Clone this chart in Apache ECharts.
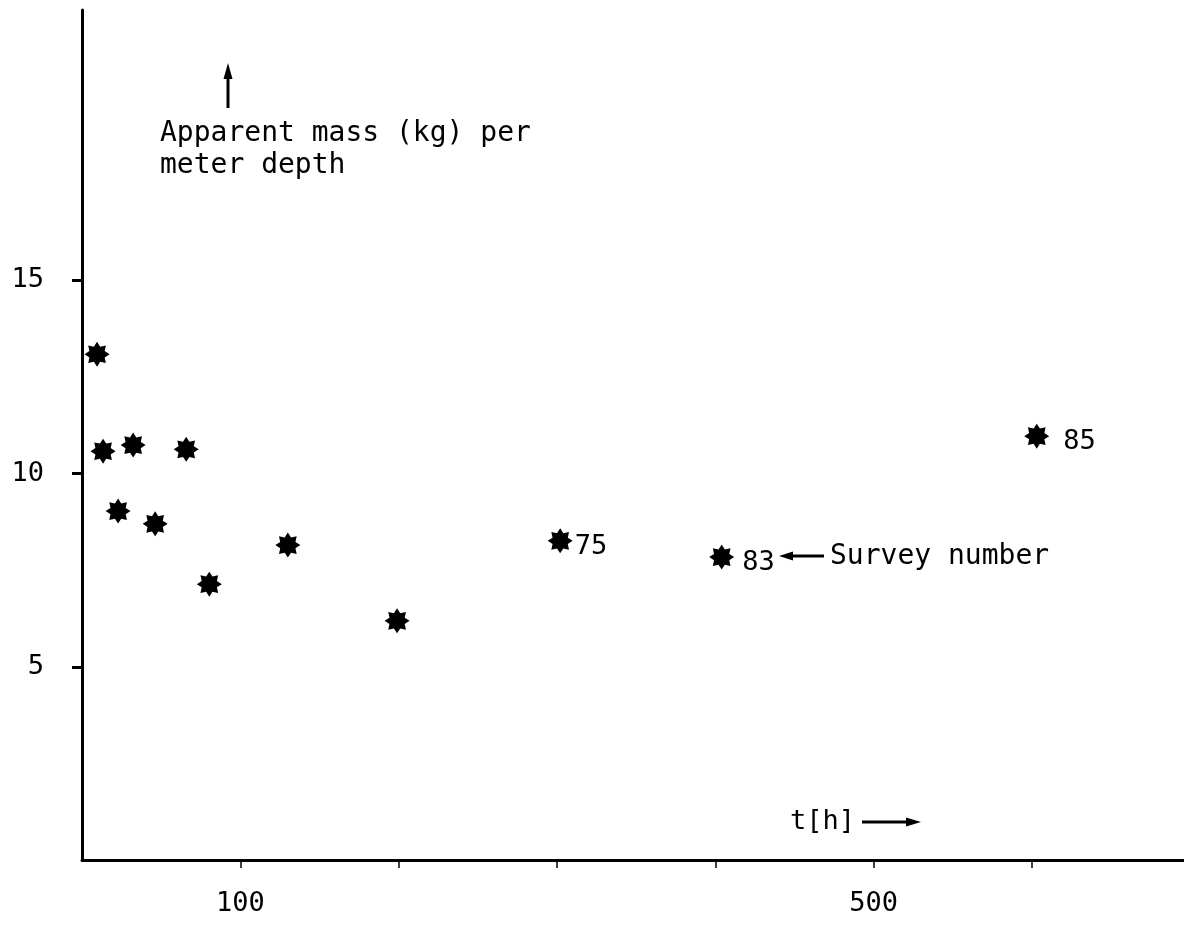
<!DOCTYPE html>
<html>
<head>
<meta charset="utf-8">
<script src="https://cdn.jsdelivr.net/npm/echarts@6/dist/echarts.min.js"></script>
<style>
html,body{margin:0;padding:0;background:#fff;}
#chart{width:1184px;height:925px;}
</style>
</head>
<body>
<div id="chart"></div>
<script>
// ---- data ----
const timeHours = [9.5, 13.3, 22.8, 32.3, 46.2, 65.8, 80.4, 130, 199, 302, 404, 603];
const apparentMass = [13.09, 10.58, 9.03, 10.74, 8.70, 10.63, 7.14, 8.15, 6.19, 8.26, 7.84, 10.97];
const surveyLabels = ['', '', '', '', '', '', '', '', '', '75', '83', '85'];
const xTickValues = [100, 200, 300, 400, 500, 600];
const xTickLabels = [100, 500];
const yTickLabels = [5, 10, 15];

const FONT = '"DejaVu Sans Mono", "Liberation Mono", monospace';
// label gap after each annotated star (style only)
const labelGap = { '75': 2, '83': 8, '85': 14 };

// 8-pointed star symbol
function starPath(points, rOuter, rInner) {
  let d = '';
  const n = points * 2;
  for (let i = 0; i < n; i++) {
    const r = i % 2 === 0 ? rOuter : rInner;
    const a = -Math.PI / 2 + i * Math.PI / points;
    const x = 50 + r * Math.cos(a);
    const y = 50 + r * Math.sin(a);
    d += (i === 0 ? 'M' : 'L') + x.toFixed(2) + ' ' + y.toFixed(2) + ' ';
  }
  return 'path://' + d + 'Z';
}
const STAR = starPath(8, 50, 33);

const seriesData = timeHours.map((t, i) => ({
  value: [t, apparentMass[i]],
  label: {
    show: surveyLabels[i] !== '',
    formatter: surveyLabels[i],
    distance: labelGap[surveyLabels[i]] || 4
  }
}));

const chart = echarts.init(document.getElementById('chart'));
chart.setOption({
  animation: false,
  backgroundColor: '#fff',
  grid: { left: 82, top: 10, right: 0, bottom: 65, containLabel: false },
  xAxis: {
    type: 'value',
    min: 0,
    max: 696,
    interval: 100,
    splitLine: { show: false },
    axisLine: { show: true, onZero: false, lineStyle: { color: '#000', width: 3 } },
    axisTick: { show: true, customValues: xTickValues, inside: false, length: 8, lineStyle: { color: '#000', width: 1.5 } },
    axisLabel: {
      show: true,
      customValues: xTickLabels,
      margin: 30,
      color: '#000',
      fontFamily: FONT,
      fontSize: 27,
      formatter: v => String(v)
    }
  },
  yAxis: {
    type: 'value',
    min: 0,
    max: 22,
    splitLine: { show: false },
    axisLine: { show: true, onZero: false, lineStyle: { color: '#000', width: 3 } },
    axisTick: { show: true, customValues: yTickLabels, length: 10, lineStyle: { color: '#000', width: 3 } },
    axisLabel: {
      show: true,
      customValues: yTickLabels,
      margin: 38,
      color: '#000',
      fontFamily: FONT,
      fontSize: 27,
      formatter: v => String(v)
    }
  },
  series: [{
    type: 'scatter',
    data: seriesData,
    symbol: STAR,
    symbolSize: 25,
    itemStyle: { color: '#000', opacity: 1 },
    emphasis: { disabled: true },
    label: {
      position: 'right',
      color: '#000',
      opacity: 1,
      fontFamily: FONT,
      fontSize: 27,
      offset: [0, 6]
    }
  }],
  graphic: [
    // up arrow + y description
    { type: 'line', shape: { x1: 228, y1: 108, x2: 228, y2: 72 }, style: { stroke: '#000', lineWidth: 3 } },
    { type: 'polygon', shape: { points: [[228, 63], [223.5, 79], [232.5, 79]] }, style: { fill: '#000' } },
    { type: 'text', left: 160, top: 118, style: { text: 'Apparent mass (kg) per\nmeter depth', font: '28px ' + FONT, fill: '#000', lineHeight: 32 } },
    // survey number arrow
    { type: 'line', shape: { x1: 786, y1: 556, x2: 824, y2: 556 }, style: { stroke: '#000', lineWidth: 3 } },
    { type: 'polygon', shape: { points: [[779, 556], [793, 551.5], [793, 560.5]] }, style: { fill: '#000' } },
    { type: 'text', left: 830, top: 543, style: { text: 'Survey number', font: '28px ' + FONT, fill: '#000' } },
    // t[h] arrow
    { type: 'text', left: 790, top: 808, style: { text: 't[h]', font: '27px ' + FONT, fill: '#000' } },
    { type: 'line', shape: { x1: 862, y1: 822, x2: 912, y2: 822 }, style: { stroke: '#000', lineWidth: 3 } },
    { type: 'polygon', shape: { points: [[921, 822], [906, 817.5], [906, 826.5]] }, style: { fill: '#000' } }
  ]
});
</script>
</body>
</html>
